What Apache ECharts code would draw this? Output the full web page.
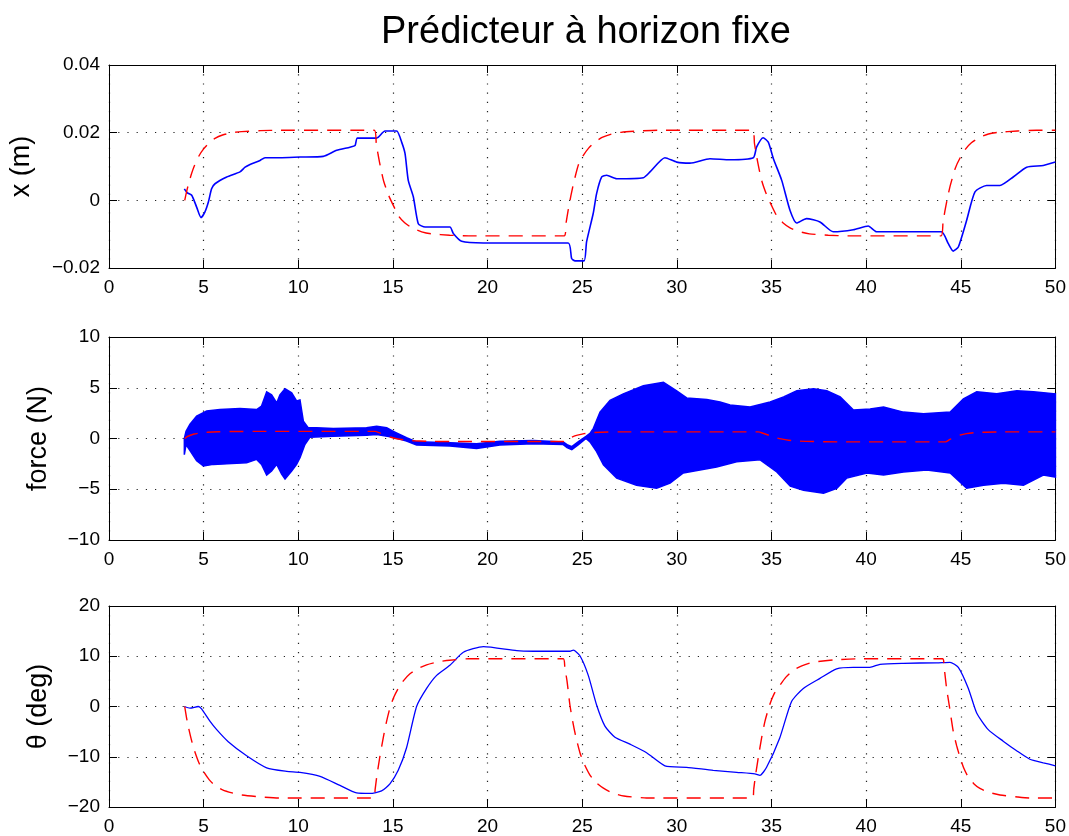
<!DOCTYPE html>
<html>
<head>
<meta charset="utf-8">
<script src="https://cdn.jsdelivr.net/npm/echarts@6/dist/echarts.min.js"></script>
<style>html,body{margin:0;padding:0;background:#fff;}#c{width:1069px;height:836px;}</style>
</head>
<body>
<div id="c"></div>
<script>
// ---------- data (time in s) ----------
const xTicks = [0,5,10,15,20,25,30,35,40,45,50];

const xMeasured = [[3.98,0.0034],[4.14,0.0022],[4.37,0.0015],[4.63,-0.002],[4.86,-0.0051],[5.07,-0.0034],[5.25,-0.0005],[5.42,0.0034],[5.6,0.0049],[6.22,0.0069],[6.92,0.0084],[7.19,0.0098],[7.45,0.0106],[7.98,0.0118],[8.24,0.0126],[9.03,0.0126],[10.09,0.0128],[11.32,0.013],[12.03,0.0148],[12.73,0.0157],[13.0,0.0162],[13.12,0.0184],[14.14,0.0184],[14.58,0.0205],[15.2,0.0205],[15.46,0.0172],[15.64,0.0138],[15.81,0.0059],[16.08,0.001],[16.34,-0.0069],[16.7,-0.0079],[18.01,-0.0079],[18.19,-0.0098],[18.63,-0.0121],[19.78,-0.0126],[24.26,-0.0126],[24.44,-0.0172],[24.62,-0.0179],[25.1,-0.0179],[25.23,-0.0123],[25.58,-0.0039],[25.76,0.002],[26.03,0.0069],[26.29,0.0074],[26.82,0.0064],[28.23,0.0067],[28.58,0.0084],[29.37,0.0126],[29.99,0.0113],[30.69,0.011],[31.75,0.0123],[32.8,0.012],[34.04,0.0126],[34.21,0.0157],[34.56,0.0185],[34.83,0.0172],[35.1,0.0123],[35.54,0.0059],[35.98,-0.003],[36.33,-0.0067],[36.85,-0.0054],[37.56,-0.0064],[38.26,-0.0093],[39.32,-0.0087],[40.11,-0.0076],[40.55,-0.0093],[41.96,-0.0093],[43.98,-0.0093],[44.34,-0.0128],[44.6,-0.015],[44.87,-0.0138],[45.31,-0.0059],[45.75,0.0025],[46.36,0.0044],[47.07,0.0044],[47.77,0.0069],[48.48,0.0098],[49.36,0.0103],[50,0.0113]];

const xReference = [[4,0],[4.1,0.0026],[4.2,0.0048],[4.35,0.0077],[4.5,0.0101],[4.75,0.0131],[5,0.0152],[5.3,0.017],[5.6,0.0183],[6,0.0193],[6.5,0.02],[7,0.0203],[8,0.0206],[9,0.0207],[14.02,0.0207],[14.12,0.0168],[14.22,0.0134],[14.37,0.0091],[14.52,0.0055],[14.77,0.0015],[15.02,-0.0015],[15.32,-0.0048],[15.62,-0.0066],[16.02,-0.0082],[16.52,-0.0093],[17.02,-0.0099],[18,-0.0103],[19,-0.0105],[24.05,-0.0105],[24.15,-0.0066],[24.25,-0.0032],[24.4,0.0013],[24.55,0.0052],[24.8,0.0105],[25.05,0.0132],[25.35,0.0155],[25.65,0.0171],[26.05,0.0186],[26.55,0.0196],[27.05,0.0201],[28,0.0205],[29,0.0207],[34.0,0.0207],[34.1,0.0168],[34.2,0.0134],[34.35,0.0091],[34.5,0.0055],[34.75,0.0015],[35.0,-0.0015],[35.3,-0.0048],[35.6,-0.0066],[36,-0.0082],[36.5,-0.0093],[37,-0.0099],[38,-0.0103],[39,-0.0105],[43.96,-0.0105],[44.06,-0.0066],[44.16,-0.0032],[44.31,0.0011],[44.46,0.0047],[44.71,0.0095],[44.96,0.0125],[45.26,0.0152],[45.56,0.017],[45.96,0.0185],[46.46,0.0196],[46.96,0.0201],[48,0.0205],[49,0.0207],[50,0.0207]];

const forceUpper = [[3.98,0],[4.07,0.7],[4.28,1.4],[4.63,2.2],[5.16,2.7],[5.86,2.85],[6.92,2.95],[7.8,2.85],[8.06,3.2],[8.33,4.6],[8.59,4.3],[8.86,3.5],[9.03,4.3],[9.3,4.9],[9.65,4.5],[9.91,3.7],[10.09,3.8],[10.27,1.7],[10.53,1.05],[10.97,1.05],[11.85,0.98],[13.6,1.05],[14.14,1.2],[14.67,1.05],[15.02,0.7],[15.72,0.07],[16.25,-0.33],[18.01,-0.42],[19.42,-0.52],[20.65,-0.26],[22.42,-0.2],[24.0,-0.35],[24.2,-0.6],[24.45,-0.8],[24.8,-0.3],[25.2,0.2],[25.41,0.5],[25.59,1.0],[25.94,2.6],[26.47,3.75],[27.17,4.4],[28.23,5.2],[29.29,5.55],[29.99,4.7],[30.52,4.0],[31.58,3.85],[32.28,3.6],[32.81,3.3],[33.87,3.1],[34.93,3.6],[35.64,4.1],[36.34,4.7],[37.22,4.9],[37.92,4.7],[38.63,4.1],[39.33,2.8],[40.21,2.9],[40.92,3.1],[41.97,2.6],[43.03,2.45],[44.44,2.6],[45.14,3.9],[45.84,4.6],[46.9,4.4],[47.96,4.7],[48.84,4.6],[50,4.4]];

const forceLower = [[3.98,-1.6],[4.07,-0.6],[4.28,-1.2],[4.63,-2.2],[4.99,-2.7],[5.51,-2.55],[6.22,-2.5],[7.27,-2.4],[7.8,-2.06],[8.06,-2.55],[8.33,-3.6],[8.59,-3.2],[8.86,-2.55],[9.12,-3.5],[9.3,-4.0],[9.65,-3.2],[9.91,-2.55],[10.09,-1.9],[10.35,-0.6],[10.62,0.13],[11.85,0.23],[13.6,0.33],[14.14,0.4],[15.02,0.13],[15.72,-0.26],[16.25,-0.65],[18.01,-0.75],[19.42,-0.98],[20.65,-0.65],[22.42,-0.52],[24.0,-0.6],[24.2,-0.9],[24.45,-1.1],[24.8,-0.6],[25.2,0.0],[25.41,-0.33],[25.76,-1.3],[26.12,-2.6],[26.82,-3.9],[27.87,-4.6],[28.93,-4.9],[29.64,-4.4],[30.34,-3.4],[31.22,-3.1],[32.1,-2.8],[33.16,-2.3],[34.4,-2.1],[35.28,-3.3],[35.99,-4.7],[36.69,-5.1],[37.75,-5.4],[38.45,-4.9],[38.98,-3.9],[40.04,-3.4],[40.92,-3.6],[41.97,-3.3],[43.2,-3.1],[44.44,-3.4],[45.31,-4.9],[46.2,-4.6],[47.25,-4.4],[48.31,-4.6],[49.36,-3.6],[50,-3.8]];

const forceReference = [[4,0],[4.15,0.2],[4.3,0.32],[4.5,0.44],[4.8,0.54],[5.2,0.61],[5.8,0.66],[6.5,0.69],[8,0.7],[14.05,0.7],[14.3,0.55],[14.6,0.33],[14.9,0.12],[15.2,-0.02],[15.6,-0.14],[16.1,-0.22],[16.8,-0.27],[18,-0.3],[24.0,-0.3],[24.2,-0.08],[24.45,0.14],[24.75,0.33],[25.1,0.48],[25.5,0.57],[26,0.62],[27,0.65],[34.3,0.65],[34.55,0.52],[34.85,0.32],[35.15,0.12],[35.5,-0.04],[35.9,-0.17],[36.4,-0.25],[37.2,-0.3],[38.5,-0.33],[44.2,-0.33],[44.4,-0.12],[44.65,0.12],[44.95,0.33],[45.3,0.48],[45.7,0.57],[46.3,0.62],[47.3,0.65],[50,0.65]];

const thetaMeasured = [[3.98,0],[4.28,-0.33],[4.72,0],[4.89,-0.46],[5.33,-2.9],[5.69,-4.6],[6.3,-7.0],[7.27,-9.8],[8.33,-12.2],[9.39,-12.9],[10.09,-13.1],[11.15,-13.9],[12.2,-15.7],[13.08,-17.2],[13.79,-17.3],[14.4,-16.8],[14.84,-15.4],[15.28,-12.7],[15.72,-8.2],[16.25,0],[16.78,3.6],[17.31,6.2],[18.01,8.2],[18.72,10.8],[19.78,11.9],[21.54,11.1],[22.42,11.0],[24.35,11.0],[24.53,11.2],[24.88,10.1],[25.32,6.2],[25.76,0.3],[26.2,-3.9],[26.73,-6.1],[27.52,-7.5],[28.4,-9.2],[29.37,-11.8],[30.51,-12.1],[31.92,-12.7],[33.16,-13.1],[34.12,-13.4],[34.39,-13.7],[34.74,-12.1],[35.44,-6.2],[36.06,1.0],[36.68,3.6],[37.56,5.6],[38.44,7.5],[39.32,7.8],[40.2,7.8],[40.73,8.4],[41.96,8.6],[43.72,8.7],[44.43,8.8],[44.87,7.8],[45.4,3.6],[45.84,-1.3],[46.45,-4.6],[47.24,-6.9],[47.95,-8.8],[48.65,-10.5],[49.36,-11.2],[50,-11.8]];

const thetaReference = [[4,0],[4.1,-2.3],[4.2,-4.2],[4.35,-6.6],[4.5,-8.6],[4.75,-11.2],[5,-13.0],[5.3,-14.6],[5.6,-15.7],[6,-16.6],[6.5,-17.2],[7,-17.6],[8,-18.0],[9,-18.2],[13.98,-18.2],[14.06,-16.5],[14.14,-14.1],[14.3,-10.2],[14.49,-6.2],[14.65,-3.2],[14.84,-0.3],[15.05,1.9],[15.28,3.6],[15.55,5.1],[15.9,6.5],[16.3,7.5],[16.78,8.3],[17.4,8.9],[18.0,9.2],[19,9.5],[24.0,9.5],[24.08,7.8],[24.2,5.0],[24.35,0.3],[24.5,-3.0],[24.65,-5.8],[24.88,-9.2],[25.1,-11.4],[25.4,-13.6],[25.75,-15.2],[26.1,-16.2],[26.6,-17.2],[27.2,-17.8],[28.4,-18.2],[34.0,-18.2],[34.06,-16.5],[34.14,-14.1],[34.3,-10.2],[34.48,-6.2],[34.65,-3.0],[34.9,0.3],[35.15,2.6],[35.44,4.2],[35.75,5.8],[36.15,7.2],[36.6,8.1],[37.2,8.8],[38.4,9.3],[39.8,9.5],[44.04,9.5],[44.12,7.8],[44.25,3.6],[44.4,0],[44.6,-4.9],[44.78,-7.8],[44.96,-10.1],[45.15,-12.2],[45.4,-14.1],[45.7,-15.4],[46.01,-16.3],[46.5,-17.1],[47.07,-17.6],[48,-18.0],[48.65,-18.2],[50,-18.2]];

const titleText = 'Prédicteur à horizon fixe';
const yNames = ['x (m)', 'force (N)', 'θ (deg)'];
const yRanges = [[-0.02, 0.04, 0.02], [-10, 10, 5], [-20, 20, 10]];

// ---------- chart ----------
const FONT = 'Liberation Sans, Arial, Helvetica, sans-serif';
const grids = [
  {left:109, top:65, width:947, height:203},
  {left:109, top:337, width:947, height:203},
  {left:109, top:606, width:947, height:204}
];
function fmtY(v){
  if (Math.abs(v) < 1e-9) return '0';
  const s = Math.abs(v) < 1 ? Math.abs(v).toFixed(2) : String(Math.abs(v));
  return (v < 0 ? '\u2212' : '') + s;
}
const gridDots = {show:true, lineStyle:{color:'#222', width:1.2, type:[1.2,8]}};
const xAxes = [], yAxes = [];
for (let i = 0; i < 3; i++) {
  xAxes.push({type:'value', gridIndex:i, min:xTicks[0], max:xTicks[xTicks.length-1], interval:5,
    axisLine:{show:true, onZero:false, lineStyle:{color:'#000', width:1}},
    axisTick:{show:true, inside:true, length:8, lineStyle:{color:'#000'}},
    axisLabel:{color:'#000', fontSize:19, fontFamily:FONT, margin:10},
    splitLine:gridDots});
}
for (let i = 0; i < 3; i++) {
  xAxes.push({type:'value', gridIndex:i, position:'top', min:0, max:50, interval:5,
    axisLine:{show:true, onZero:false, lineStyle:{color:'#000', width:1}},
    axisTick:{show:true, inside:true, length:8, lineStyle:{color:'#000'}},
    axisLabel:{show:false}, splitLine:{show:false}});
}
const nameGaps = [74, 57, 57];
for (let i = 0; i < 3; i++) {
  const r = yRanges[i];
  yAxes.push({type:'value', gridIndex:i, min:r[0], max:r[1], interval:r[2],
    name:yNames[i], nameLocation:'middle', nameGap:nameGaps[i],
    nameTextStyle:{color:'#000', fontSize:27, fontFamily:FONT},
    axisLine:{show:true, onZero:false, lineStyle:{color:'#000', width:1}},
    axisTick:{show:true, inside:true, length:8, lineStyle:{color:'#000'}},
    axisLabel:{color:'#000', fontSize:19, fontFamily:FONT, margin:9, formatter:fmtY},
    splitLine:gridDots});
}
for (let i = 0; i < 3; i++) {
  const r = yRanges[i];
  yAxes.push({type:'value', gridIndex:i, position:'right', min:r[0], max:r[1], interval:r[2],
    axisLine:{show:true, onZero:false, lineStyle:{color:'#000', width:1}},
    axisTick:{show:true, inside:true, length:8, lineStyle:{color:'#000'}},
    axisLabel:{show:false}, splitLine:{show:false}});
}
const blue = '#0000ff', red = '#ff0000';
function meas(data, i, w){ return {type:'line', xAxisIndex:i, yAxisIndex:i, data:data, showSymbol:false, symbol:'none', smooth:0.2, lineStyle:{color:blue, width:w}, z:3, silent:true}; }
function ref(data, i){ return {type:'line', xAxisIndex:i, yAxisIndex:i, data:data, showSymbol:false, symbol:'none', smooth:0.2, lineStyle:{color:red, width:1.4, type:[14,9]}, z:4, silent:true}; }

const option = {
  animation:false,
  backgroundColor:'#fff',
  title:{text:titleText, left:376, top:9, textStyle:{color:'#000', fontSize:38, fontWeight:'normal', fontFamily:FONT}},
  grid:grids,
  xAxis:xAxes,
  yAxis:yAxes,
  series:[
    meas(xMeasured, 0, 1.6),
    ref(xReference, 0),
    {type:'custom', xAxisIndex:1, yAxisIndex:1, silent:true, z:3,
      data:[[25,0]],
      renderItem:function(params, api){
        const pts = forceUpper.map(p => api.coord(p)).concat(forceLower.slice().reverse().map(p => api.coord(p)));
        return {type:'polygon', shape:{points:pts}, style:{fill:blue, stroke:blue, lineWidth:1.5}};
      }},
    ref(forceReference, 1),
    meas(thetaMeasured, 2, 1.3),
    ref(thetaReference, 2)
  ]
};
const chart = echarts.init(document.getElementById('c'), null, {renderer:'canvas'});
chart.setOption(option);
</script>
</body>
</html>
